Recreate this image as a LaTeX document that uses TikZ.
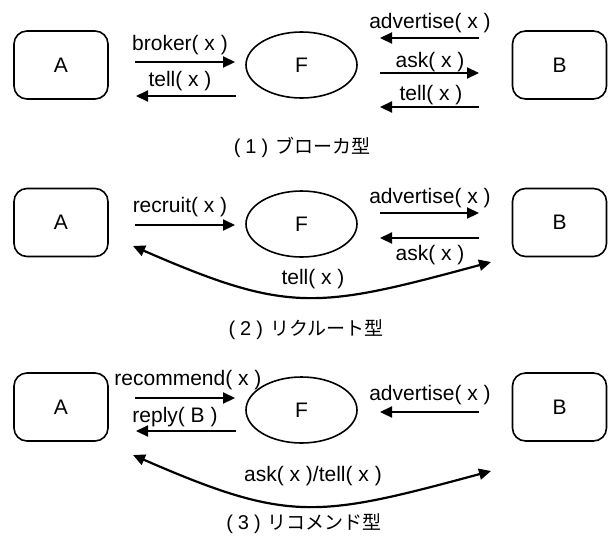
\documentclass[tikz,border=0pt]{standalone}
\usepackage{fontspec}
\setmainfont{Liberation Sans}
\newfontfamily\jpfont{Noto Sans CJK JP}
\usetikzlibrary{arrows.meta,shapes.geometric}
\newcommand{\capnum}[1]{{\rmfamily\fontsize{20}{24}\selectfont(\kern5pt#1\kern5pt)}\kern7pt}
\tikzset{
  agent/.style={draw, line width=1.6pt, rounded corners=13pt, minimum width=94pt, minimum height=68pt, inner sep=0pt, font=\fontsize{21}{25}\selectfont},
  fac/.style={draw, ellipse, line width=1.6pt, minimum width=111pt, minimum height=66pt, inner sep=0pt, font=\fontsize{21}{25}\selectfont},
  lbl/.style={anchor=base, inner sep=0pt, font=\fontsize{21}{25}\selectfont},
  captxt/.style={anchor=center, inner sep=0pt, font=\jpfont\fontsize{19}{22}\selectfont},
  arr/.style={line width=2.2pt, -{Triangle[length=12pt,width=11pt]}},
  darr/.style={line width=2.2pt, {Triangle[length=12pt,width=11pt]}-{Triangle[length=12pt,width=11pt]}}
}
\begin{document}
\begin{tikzpicture}[x=1pt,y=-1pt]
\useasboundingbox (0,0) rectangle (608,539);
% ---------- panel 1 ----------
\node[agent] (A1) at (61,65) {A};
\node[fac]   (F1) at (301.5,65) {F};
\node[agent] (B1) at (559.5,65) {B};
\coordinate (p1a) at (135,62);  \coordinate (p1b) at (235,62);
\coordinate (p1c) at (236,96);  \coordinate (p1d) at (136,96);
\coordinate (p1e) at (479,38);  \coordinate (p1f) at (380,38);
\coordinate (p1g) at (380,73);  \coordinate (p1h) at (479,73);
\coordinate (p1i) at (479,107); \coordinate (p1j) at (380,107);
\draw[arr] (p1a) -- (p1b);
\draw[arr] (p1c) -- (p1d);
\draw[arr] (p1e) -- (p1f);
\draw[arr] (p1g) -- (p1h);
\draw[arr] (p1i) -- (p1j);
\node[lbl] (l1a) at (180,50) {broker( x )};
\node[lbl] (l1b) at (180,86) {tell( x )};
\node[lbl] (l1c) at (430,28) {advertise( x )};
\node[lbl] (l1d) at (430,67) {ask( x )};
\node[lbl] (l1e) at (431,100) {tell( x )};
\node[captxt] (c1) at (302,147) {\capnum{1}ブローカ型};
% ---------- panel 2 ----------
\node[agent] (A2) at (61,222.5) {A};
\node[fac]   (F2) at (301.5,224) {F};
\node[agent] (B2) at (559.5,222.5) {B};
\coordinate (p2a) at (135,225); \coordinate (p2b) at (235,225);
\coordinate (p2c) at (380,213); \coordinate (p2d) at (479,213);
\coordinate (p2e) at (479,238); \coordinate (p2f) at (380,238);
\coordinate (p2g) at (133,246); \coordinate (p2h) at (491,262);
\draw[arr] (p2a) -- (p2b);
\draw[arr] (p2c) -- (p2d);
\draw[arr] (p2e) -- (p2f);
\draw[darr] (p2g) .. controls (289,314) and (317,309) .. (p2h);
\node[lbl] (l2a) at (180,212) {recruit( x )};
\node[lbl] (l2b) at (430,203) {advertise( x )};
\node[lbl] (l2c) at (430,260) {ask( x )};
\node[lbl] (l2d) at (313,284) {tell( x )};
\node[captxt] (c2) at (306,330) {\capnum{2}リクルート型};
% ---------- panel 3 ----------
\node[agent] (A3) at (61,407) {A};
\node[fac]   (F3) at (301.5,410) {F};
\node[agent] (B3) at (559.5,407) {B};
\coordinate (p3a) at (135,398); \coordinate (p3b) at (235,398);
\coordinate (p3c) at (236,431); \coordinate (p3d) at (136,431);
\coordinate (p3e) at (479,412); \coordinate (p3f) at (380,412);
\coordinate (p3g) at (133,455); \coordinate (p3h) at (491,471);
\draw[arr] (p3a) -- (p3b);
\draw[arr] (p3c) -- (p3d);
\draw[arr] (p3e) -- (p3f);
\draw[darr] (p3g) .. controls (289,523) and (317,518) .. (p3h);
\node[lbl] (l3a) at (188,385) {recommend( x )};
\node[lbl] (l3b) at (175,422) {reply( B )};
\node[lbl] (l3c) at (430,400) {advertise( x )};
\node[lbl] (l3d) at (313,481) {ask( x )/tell( x )};
\node[captxt] (c3) at (304,524) {\capnum{3}リコメンド型};
\end{tikzpicture}
\end{document}
